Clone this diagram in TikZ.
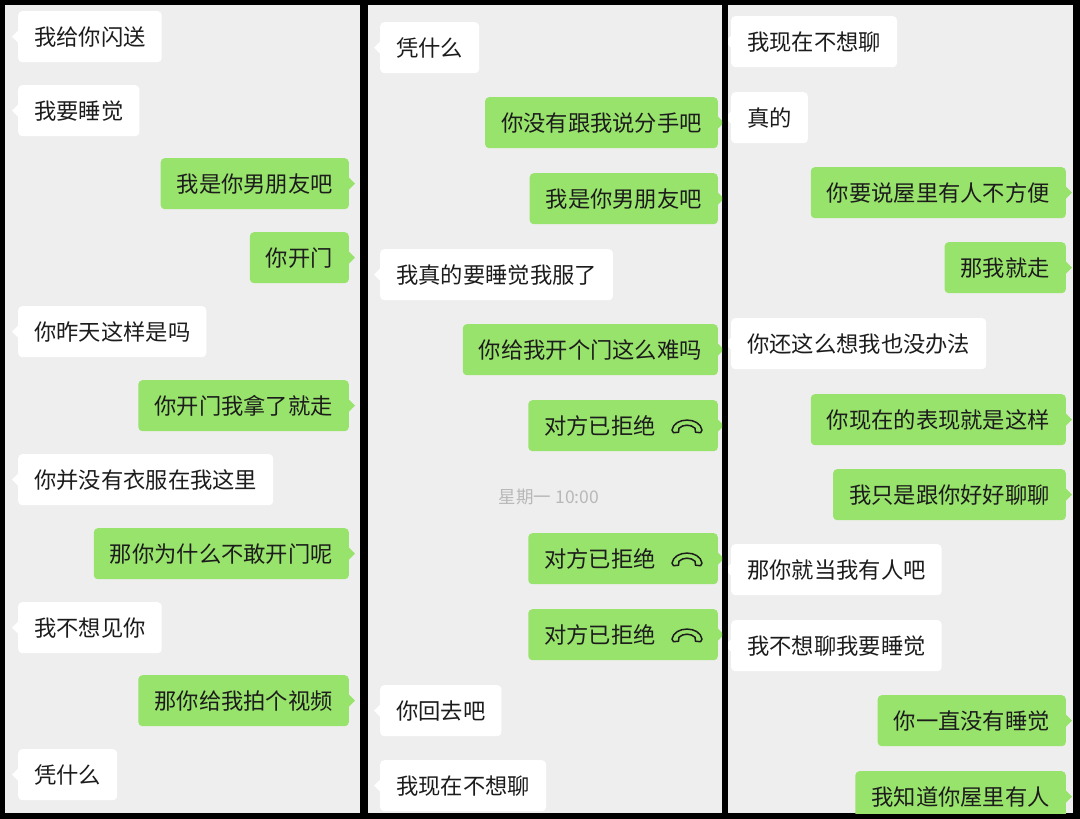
\documentclass[tikz,border=0pt]{standalone}
\usepackage{fontspec}
\newfontfamily\cjk{Noto Sans CJK SC}
\definecolor{bubgreen}{HTML}{98E36B}
\definecolor{panelbg}{HTML}{EEEEEE}
\definecolor{msgtext}{HTML}{1C1C1C}
\definecolor{stampgray}{HTML}{B8B8B8}
\tikzset{
  bub/.style={rounded corners=4pt, minimum height=51pt, inner xsep=16pt, inner ysep=0pt,
    font=\cjk\fontsize{22.3}{26}\selectfont, text=msgtext},
  wbub/.style={bub, fill=white},
  gbub/.style={bub, fill=bubgreen},
  panelbox/.style={fill=panelbg},
  stamp/.style={font=\cjk\fontsize{17.5}{20}\selectfont, text=stampgray},
  hangup/.style={draw=msgtext, line width=1.5pt, line join=round}
}
\newcommand\leftmsg[4]{%
  \node[wbub,anchor=north west] (#1) at (#2,#3) {#4};
  \fill[white] ([yshift=6pt]#1.west) -- ([xshift=-6pt]#1.west) -- ([yshift=-6pt]#1.west) -- cycle;}
\newcommand\rightmsg[4]{%
  \node[gbub,anchor=north east] (#1) at (#2,#3) {#4};
  \fill[bubgreen] ([yshift=6pt]#1.east) -- ([xshift=6pt]#1.east) -- ([yshift=-6pt]#1.east) -- cycle;}
\newcommand\rejmsg[3]{%
  \rightmsg{#1}{#2}{#3}{对方已拒绝\rule{46pt}{0pt}}
  \begin{scope}[shift={([xshift=-31pt]#1.east)}]
    \draw[hangup] (-15,4.5) .. controls (-13,-9) and (13,-9) .. (15,4.5)
      -- (13.5,7) -- (8.5,6.5) -- (8,2.5) .. controls (4,-1.5) and (-4,-1.5) .. (-8,2.5)
      -- (-8.5,6.5) -- (-13.5,7) -- cycle;
  \end{scope}}
\begin{document}
\begin{tikzpicture}[x=1pt,y=-1pt]
\useasboundingbox (0,0) rectangle (1080,819);
\fill[black] (0,0) rectangle (1080,819);

% Panel 1
\begin{scope}
\clip (5,5) rectangle (360,813);
\fill[panelbox] (5,5) rectangle (360,813);
\leftmsg{a1}{18}{11}{我给你闪送}
\leftmsg{a2}{18}{85}{我要睡觉}
\rightmsg{a3}{349}{158}{我是你男朋友吧}
\rightmsg{a4}{349}{232}{你开门}
\leftmsg{a5}{18}{306}{你昨天这样是吗}
\rightmsg{a6}{349}{380}{你开门我拿了就走}
\leftmsg{a7}{18}{454}{你并没有衣服在我这里}
\rightmsg{a8}{349}{528}{那你为什么不敢开门呢}
\leftmsg{a9}{18}{602}{我不想见你}
\rightmsg{a10}{349}{675}{那你给我拍个视频}
\leftmsg{a11}{18}{749}{凭什么}
\end{scope}

% Panel 2
\begin{scope}
\clip (368,5) rectangle (722,813);
\fill[panelbox] (368,5) rectangle (722,813);
\leftmsg{b1}{380}{22}{凭什么}
\rightmsg{b2}{718}{97}{你没有跟我说分手吧}
\rightmsg{b3}{718}{173}{我是你男朋友吧}
\leftmsg{b4}{380}{249}{我真的要睡觉我服了}
\rightmsg{b5}{718}{324}{你给我开个门这么难吗}
\rejmsg{b6}{718}{400}
\node[stamp] (b7) at (549,497) {星期一 10:00};
\rejmsg{b8}{718}{533}
\rejmsg{b9}{718}{609}
\leftmsg{b10}{380}{685}{你回去吧}
\leftmsg{b11}{380}{760}{我现在不想聊}
\end{scope}

% Panel 3
\begin{scope}
\clip (728,5) rectangle (1073,813);
\fill[panelbox] (728,5) rectangle (1073,813);
\leftmsg{c1}{731}{16}{我现在不想聊}
\leftmsg{c2}{731}{92}{真的}
\rightmsg{c3}{1066}{167}{你要说屋里有人不方便}
\rightmsg{c4}{1066}{242}{那我就走}
\leftmsg{c5}{731}{318}{你还这么想我也没办法}
\rightmsg{c6}{1066}{394}{你现在的表现就是这样}
\rightmsg{c7}{1066}{469}{我只是跟你好好聊聊}
\leftmsg{c8}{731}{544}{那你就当我有人吧}
\leftmsg{c9}{731}{620}{我不想聊我要睡觉}
\rightmsg{c10}{1066}{695}{你一直没有睡觉}
\rightmsg{c11}{1066}{771}{我知道你屋里有人}
\end{scope}
\end{tikzpicture}
\end{document}
